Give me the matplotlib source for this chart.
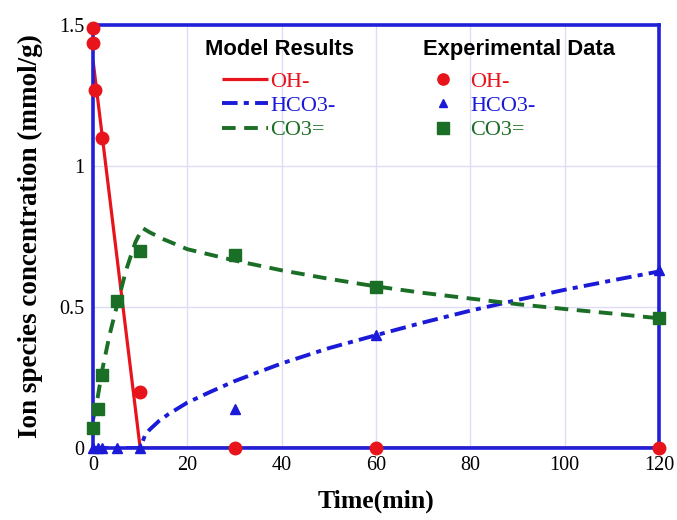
import matplotlib
matplotlib.use("Agg")
import matplotlib.pyplot as plt

# ---- data ----
# model curves
t_oh_model = [0, 10, 120]
oh_model = [1.375, 0.0, 0.0]

t_hco3_model = [0, 10, 11, 12, 14, 16, 20, 25, 30, 40, 50, 60, 70, 80, 90, 100, 110, 120]
hco3_model = [0, 0, 0.044, 0.065, 0.096, 0.120, 0.161, 0.200, 0.237, 0.300, 0.354,
              0.400, 0.445, 0.487, 0.525, 0.561, 0.594, 0.626]

t_co3_model = [0, 1, 2, 3.5, 5, 7, 9, 10.5, 12, 15, 20, 30, 40, 50, 60, 70, 80, 90, 100, 110, 120]
co3_model = [0.10, 0.18, 0.28, 0.40, 0.50, 0.63, 0.73, 0.78, 0.765, 0.74, 0.705, 0.665,
             0.63, 0.60, 0.573, 0.55, 0.53, 0.51, 0.493, 0.477, 0.46]

# experimental data
t_oh_exp = [0, 0, 0.5, 2, 10, 30, 60, 120]
oh_exp = [1.49, 1.435, 1.27, 1.10, 0.20, 0.0, 0.0, 0.0]

t_hco3_exp = [0, 1, 2, 5, 10, 30, 60, 120]
hco3_exp = [0, 0, 0, 0, 0, 0.14, 0.40, 0.63]

t_co3_exp = [0, 1, 2, 5, 10, 30, 60, 120]
co3_exp = [0.07, 0.14, 0.26, 0.52, 0.70, 0.685, 0.57, 0.46]

x_ticks = [0, 20, 40, 60, 80, 100, 120]
x_ticklabels = ["0", "20", "40", "60", "80", "100", "120"]
y_ticks = [0, 0.5, 1, 1.5]
y_ticklabels = ["0", "0.5", "1", "1.5"]

series_names = ["OH-", "HCO3-", "CO3="]
legend_titles = ["Model Results", "Experimental Data"]

# ---- style ----
RED = "#e8141c"
BLUE = "#1a1ad8"
GREEN = "#1b6e25"
SPINE = "#2020d8"
GRID = "#dcdcf6"
SERIF = "Liberation Serif"
SANS = "Liberation Sans"

fig = plt.figure(figsize=(6.77, 5.20), dpi=100)
ax = fig.add_axes([93/677, 1-448/520, (659-93)/677, (448-25)/520])

ax.set_xlim(0, 120)
ax.set_ylim(0, 1.5)

ax.grid(True, color=GRID, linewidth=1.0)
ax.set_axisbelow(True)

for s in ax.spines.values():
    s.set_color(SPINE)
    s.set_linewidth(2.6)
    s.set_zorder(4)

l_oh, = ax.plot(t_oh_model, oh_model, color=RED, lw=2.3, solid_capstyle="butt", zorder=3)
l_hco3, = ax.plot(t_hco3_model, hco3_model, color=BLUE, lw=2.8,
                  dashes=(4, 1.6, 1.3, 1.6), zorder=3)
l_co3, = ax.plot(t_co3_model, co3_model, color=GREEN, lw=2.8, dashes=(3.5, 2.2), zorder=3)

m_oh, = ax.plot(t_oh_exp, oh_exp, "o", color=RED, ms=9, ls="none", clip_on=False, zorder=5)
m_hco3, = ax.plot(t_hco3_exp, hco3_exp, "^", color=BLUE, ms=7, ls="none", clip_on=False, zorder=5)
m_co3, = ax.plot(t_co3_exp, co3_exp, "s", color=GREEN, ms=9, ls="none", clip_on=False, zorder=5)

ax.set_xticks(x_ticks)
ax.set_xticklabels(x_ticklabels, fontfamily=SERIF, fontsize=14.5)
ax.set_yticks(y_ticks)
ax.set_yticklabels(y_ticklabels, fontfamily=SERIF, fontsize=14.5)
ax.tick_params(length=0, pad=6)

ax.set_xlabel("Time(min)", fontfamily=SERIF, fontweight="bold", fontsize=18.5, labelpad=10)
ax.set_ylabel("Ion species concentration (mmol/g)", fontfamily=SERIF, fontweight="bold",
              fontsize=19.5, labelpad=12)

# legend titles
ax.text(0.198, 0.941, legend_titles[0], transform=ax.transAxes, family=SANS,
        weight="bold", fontsize=15.8, va="center", ha="left")
ax.text(0.583, 0.941, legend_titles[1], transform=ax.transAxes, family=SANS,
        weight="bold", fontsize=15.8, va="center", ha="left")

leg1 = ax.legend([l_oh, l_hco3, l_co3], series_names,
                 prop={"family": SERIF, "size": 16},
                 labelcolor=[RED, BLUE, GREEN],
                 loc="upper left", bbox_to_anchor=(0.228, 0.890), frameon=False,
                 borderpad=0, borderaxespad=0, handlelength=2.07, handletextpad=0.1,
                 labelspacing=0.16)
ax.add_artist(leg1)

leg2 = ax.legend([m_oh, m_hco3, m_co3], series_names,
                 prop={"family": SERIF, "size": 16},
                 labelcolor=[RED, BLUE, GREEN],
                 loc="upper left", bbox_to_anchor=(0.599, 0.890), frameon=False,
                 borderpad=0, borderaxespad=0, handlelength=1.0, handletextpad=0.72,
                 labelspacing=0.16, markerscale=0.9)

fig.savefig("out.png", dpi=100)
